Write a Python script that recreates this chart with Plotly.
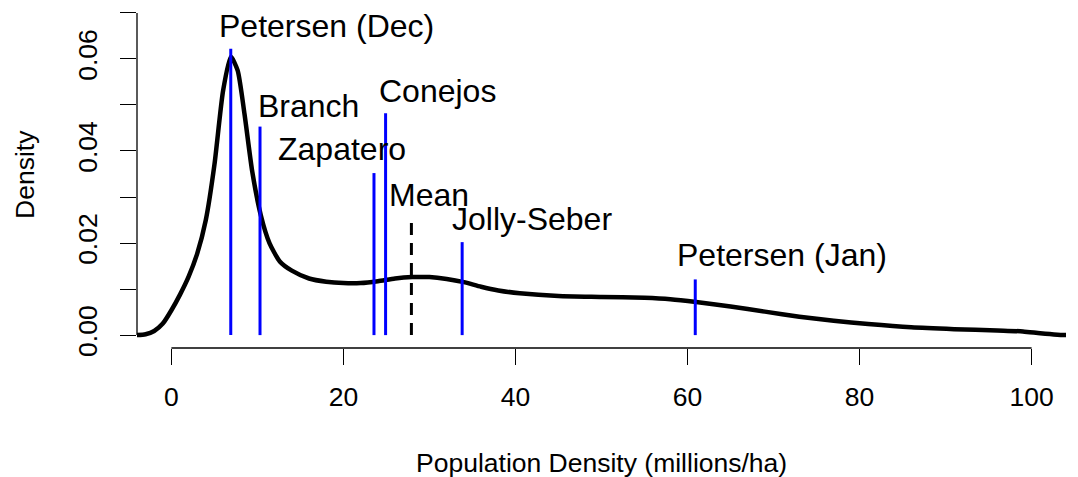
import plotly.graph_objects as go

# ---- data ----
curve_x = [-4.1, -3.0, -2.0, -1.0, 0.0, 1.0, 2.0, 3.0, 4.0, 5.0, 6.0, 6.9, 7.7, 8.5,
           9.4, 10.4, 11.4, 12.6, 14.0, 16.0, 18.0, 20.0, 22.0, 24.0, 26.0, 28.0, 30.0,
           32.0, 34.0, 36.0, 38.0, 40.5, 45.0, 50.0, 55.0, 58.0, 61.0, 65.0, 69.0, 73.0,
           77.0, 81.0, 86.0, 91.0, 96.0, 99.0, 101.0, 103.0, 104.5]
curve_y = [0.0000, 0.0002, 0.0009, 0.0025, 0.0054, 0.0088, 0.0127, 0.0177, 0.0250,
           0.0370, 0.0530, 0.0605, 0.0575, 0.0480, 0.0355, 0.0260, 0.0200, 0.0160,
           0.0140, 0.0123, 0.0116, 0.0113, 0.0113, 0.0117, 0.0123, 0.0126, 0.0126,
           0.0122, 0.0115, 0.0105, 0.0097, 0.0091, 0.0085, 0.0083, 0.0081, 0.0078,
           0.0072, 0.0062, 0.0051, 0.0040, 0.0031, 0.0024, 0.0017, 0.0013, 0.0010,
           0.0008, 0.0004, 0.0001, 0.0000]

estimate_names = ["Petersen (Dec)", "Branch", "Zapatero", "Conejos", "Jolly-Seber", "Petersen (Jan)"]
estimate_values = [6.9, 10.3, 23.55, 24.9, 33.8, 60.9]
estimate_heights = [0.0622, 0.0453, 0.0352, 0.0482, 0.0202, 0.0121]
label_x = [18.0, 15.95, 19.85, 30.9, 41.97, 71.0]
label_y = [0.0672, 0.0497, 0.0405, 0.0531, 0.0252, 0.0174]

mean_name = "Mean"
mean_value = 27.9
mean_height = 0.0254
mean_label_x = 29.98
mean_label_y = 0.0304

x_ticks = [0, 20, 40, 60, 80, 100]
y_ticks = [0.00, 0.01, 0.02, 0.03, 0.04, 0.05, 0.06, 0.07]
y_ticktext = ["0.00", "", "0.02", "", "0.04", "", "0.06", ""]

FONT = "Liberation Sans, Arial, Helvetica, sans-serif"

fig = go.Figure()

fig.add_trace(go.Scatter(x=curve_x, y=curve_y, mode="lines",
                         line=dict(color="black", width=4.5, shape="spline", smoothing=0.6),
                         hoverinfo="skip", showlegend=False))

vx, vy = [], []
for v, h in zip(estimate_values, estimate_heights):
    vx += [v, v, None]
    vy += [0, h, None]
fig.add_trace(go.Scatter(x=vx, y=vy, mode="lines", line=dict(color="#0000ff", width=3),
                         hoverinfo="skip", showlegend=False))

fig.add_trace(go.Scatter(x=[mean_value, mean_value], y=[0, mean_height], mode="lines",
                         line=dict(color="black", width=3, dash="12px,8px"),
                         hoverinfo="skip", showlegend=False))

annotations = []
for name, lx, ly in zip(estimate_names + [mean_name], label_x + [mean_label_x], label_y + [mean_label_y]):
    annotations.append(dict(x=lx, y=ly, xref="x", yref="y", text=name, showarrow=False,
                            xanchor="center", yanchor="middle",
                            font=dict(family=FONT, size=32, color="black")))

annotations.append(dict(x=0.5, y=-0.33, xref="paper", yref="paper",
                        text="Population Density (millions/ha)", showarrow=False,
                        xanchor="center", yanchor="middle",
                        font=dict(family=FONT, size=26.5, color="black")))
annotations.append(dict(x=-0.1206, y=0.5, xref="paper", yref="paper", text="Density",
                        textangle=-90, showarrow=False, xanchor="center", yanchor="middle",
                        font=dict(family=FONT, size=26.5, color="black")))

shapes = [
    dict(type="line", xref="x", yref="paper", x0=x_ticks[0], x1=x_ticks[-1], y0=0, y1=0,
         line=dict(color="black", width=1.3)),
    dict(type="line", xref="paper", yref="y", x0=0, x1=0, y0=y_ticks[0], y1=y_ticks[-1],
         line=dict(color="black", width=1.3)),
]

fig.update_layout(
    width=1078, height=477,
    margin=dict(l=137, r=12, t=0, b=129),
    paper_bgcolor="white", plot_bgcolor="white",
    font=dict(family=FONT, size=26.5, color="black"),
    showlegend=False,
    annotations=annotations,
    shapes=shapes,
    xaxis=dict(range=[-4, 104], tickvals=x_ticks, ticks="outside", ticklen=16, tickwidth=1.3,
               tickcolor="black", showline=False, showgrid=False, zeroline=False,
               ticklabelstandoff=9, automargin=False,
               tickfont=dict(family=FONT, size=26.5, color="black")),
    yaxis=dict(range=[-0.0028, 0.0728], tickvals=y_ticks, ticktext=y_ticktext, ticks="outside",
               ticklen=16, tickwidth=1.3, tickcolor="black", tickangle=-90,
               showline=False, showgrid=False, zeroline=False,
               ticklabelstandoff=12, automargin=False,
               tickfont=dict(family=FONT, size=26.5, color="black")),
)

fig.write_html("out.html", config={"displayModeBar": False},
               post_script="document.body.style.margin='0px';")
